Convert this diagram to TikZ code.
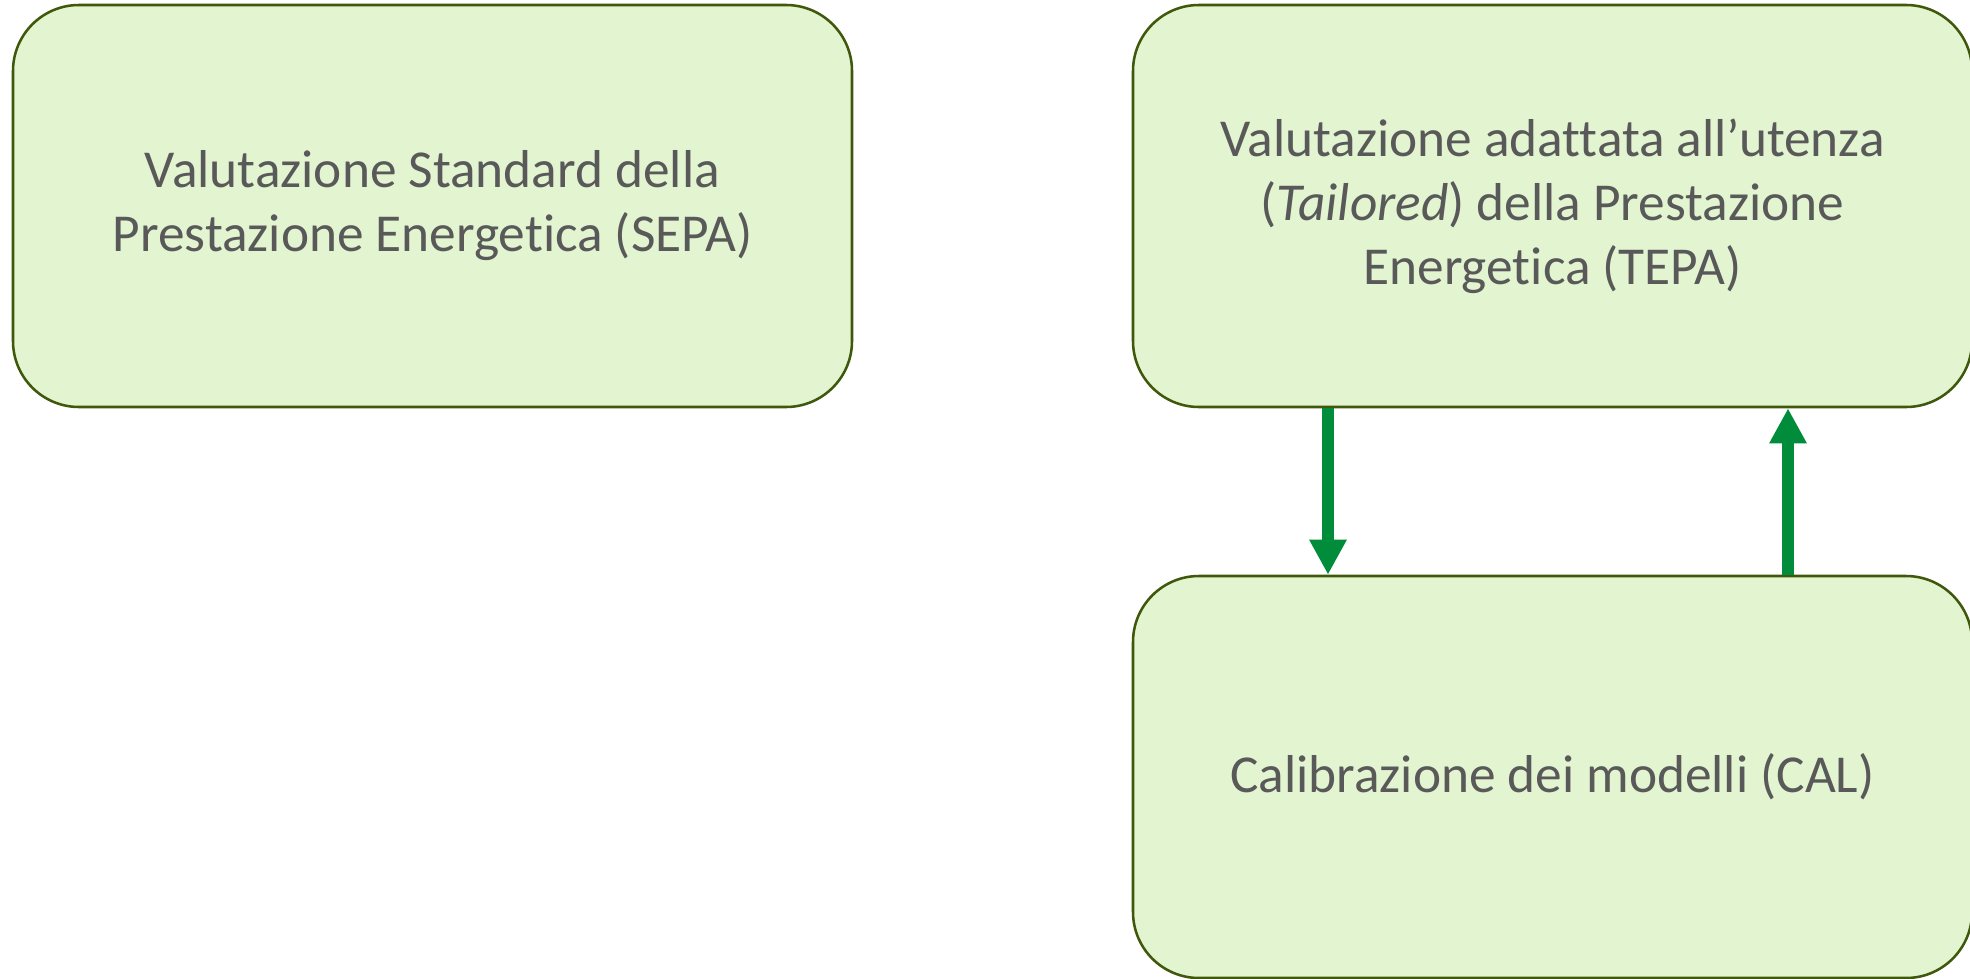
\documentclass[tikz,border=0pt]{standalone}
\usepackage{fontspec}
\setmainfont{Carlito}[Ligatures=NoCommon]
\usetikzlibrary{arrows.meta,positioning}
\definecolor{boxfill}{RGB}{226,244,208}
\definecolor{boxline}{RGB}{64,88,12}
\definecolor{boxtext}{RGB}{89,89,89}
\definecolor{flowgreen}{RGB}{0,140,58}
\tikzset{
  phase/.style={draw=boxline, line width=1.9pt, fill=boxfill, rounded corners=49.5pt,
    minimum width=629.25pt, minimum height=301.5pt, align=center, text=boxtext,
    font=\fontsize{40}{48}\selectfont, inner sep=0pt},
  flow/.style={draw=flowgreen, line width=9pt, -{Triangle[length=26.25pt,width=26.25pt]}}
}

\begin{document}
\begin{tikzpicture}[x=0.75pt,y=0.75pt,yscale=-1,xscale=1]
			\useasboundingbox (0,0) rectangle (1970,978);
			\node [phase] (sepa) at (432.5,206) {Valutazione Standard della\\Prestazione Energetica (SEPA)};
			\node [phase] (tepa) at (1552.5,206) {Valutazione adattata all’utenza\\(\textit{Tailored}) della Prestazione\\Energetica (TEPA)};
			\node [phase] (cal) at (1552.5,777) {Calibrazione dei modelli (CAL)};
			\coordinate (dn) at (1328,0);
			\coordinate (up) at (1788,0);
			\draw [flow] (tepa.south -| dn) -- (cal.north -| dn);
			\draw [flow] (cal.north -| up) -- (tepa.south -| up);
\end{tikzpicture}
\end{document}
